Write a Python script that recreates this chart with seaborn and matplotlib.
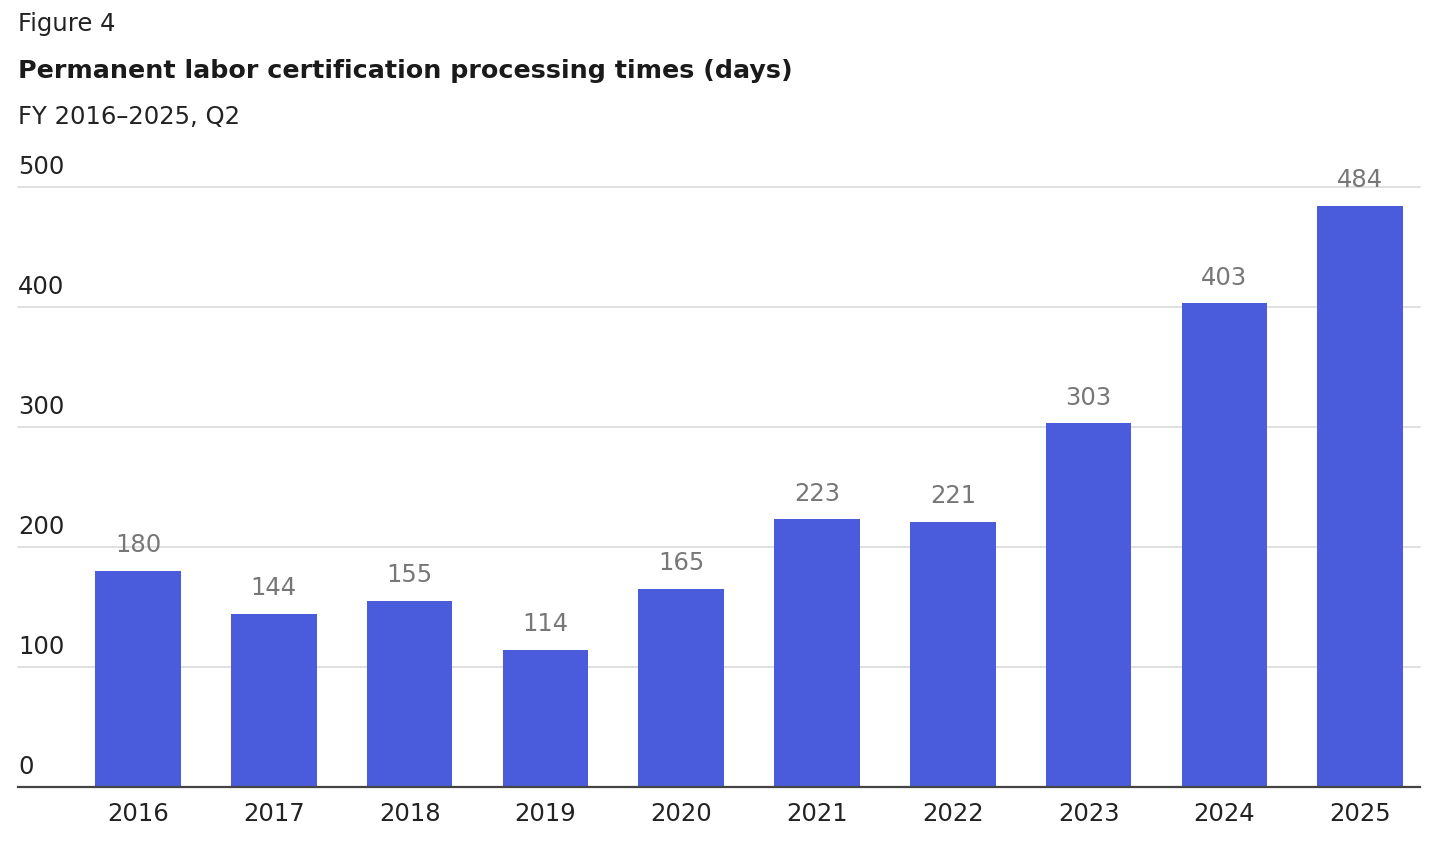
import numpy as np
import pandas as pd
import matplotlib
matplotlib.use('Agg')
import matplotlib.pyplot as plt
import matplotlib.transforms as mtransforms
import seaborn as sns

years = ['2016', '2017', '2018', '2019', '2020', '2021', '2022', '2023', '2024', '2025']
days = [180, 144, 155, 114, 165, 223, 221, 303, 403, 484]
yticks = [0, 100, 200, 300, 400, 500]

df = pd.DataFrame({'year': years, 'days': days})

sns.set_style("white")
plt.rcParams['font.family'] = ['DejaVu Sans']

fig = plt.figure(figsize=(14.34, 8.6), dpi=100)
ax = fig.add_axes([18/1434, 73/860, (1420-18)/1434, (787-187)/860])

sns.barplot(data=df, x='year', y='days', color='#4a5cdc', saturation=1, width=0.63,
            linewidth=0, ax=ax, zorder=3)

ax.set_ylim(0, 500)
ax.set_xlim(-0.884, 9.44)
ax.set_xlabel('')
ax.set_ylabel('')
ax.set_yticks(yticks)
ax.set_yticklabels([])
ax.tick_params(axis='y', length=0)
ax.tick_params(axis='x', length=0, pad=11, labelsize=17.5, labelcolor='#222222')
for s in ['top', 'right', 'left']:
    ax.spines[s].set_visible(False)
ax.spines['bottom'].set_color('#444444')
ax.spines['bottom'].set_linewidth(1.6)
ax.spines['bottom'].set_zorder(5)

# gridlines, with the y labels sitting just above them
trans = mtransforms.blended_transform_factory(ax.transAxes, ax.transData)
shift = trans + mtransforms.ScaledTranslation(0, 8/100, fig.dpi_scale_trans)
for t in yticks[1:]:
    ax.axhline(t, color='#dddddd', lw=1.3, zorder=1, clip_on=False)
for t in yticks:
    ax.text(0, t, str(t), transform=shift, ha='left', va='bottom', fontsize=17.5,
            color='#222222', zorder=4)

for i, v in enumerate(days):
    ax.annotate(str(v), (i, v), xytext=(0, 10), textcoords='offset points', ha='center',
                va='bottom', fontsize=17.5, color='#777777', zorder=4, annotation_clip=False)

fig.text(18/1434, 1 - 24/860, 'Figure 4', ha='left', va='center', fontsize=17.5, color='#222222')
fig.text(18/1434, 1 - 71/860, 'Permanent labor certification processing times (days)', ha='left',
         va='center', fontsize=18.3, fontweight='bold', color='#1a1a1a')
fig.text(18/1434, 1 - 117/860, 'FY 2016\u20132025, Q2', ha='left', va='center', fontsize=17.5, color='#222222')

fig.savefig('out.png', dpi=100)
